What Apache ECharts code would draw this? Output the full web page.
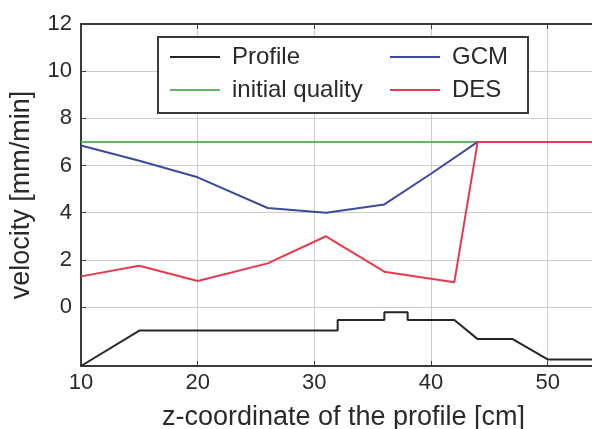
<!DOCTYPE html>
<html><head><meta charset="utf-8">
<script src="https://cdn.jsdelivr.net/npm/echarts@6/dist/echarts.min.js"></script>
<style>html,body{margin:0;padding:0;background:#fff}#c{width:592px;height:429px}</style>
</head><body><div id="c"></div>
<script>
// ---- data ----
const profileX = [10, 15, 32, 32, 36, 36, 38, 38, 42, 44, 47, 50, 55];
const profileY = [-2.5, -1.0, -1.0, -0.55, -0.55, -0.22, -0.22, -0.55, -0.55, -1.36, -1.36, -2.22, -2.22];
const initialX = [10, 55];
const initialY = [7.0, 7.0];
const gcmX = [10, 15, 20, 26, 31, 36, 40, 44];
const gcmY = [6.85, 6.2, 5.5, 4.2, 4.0, 4.35, 5.65, 7.0];
const desX = [10, 15, 20, 26, 31, 36, 42, 44, 55];
const desY = [1.3, 1.75, 1.1, 1.85, 3.0, 1.5, 1.05, 7.0, 7.0];
const xTicks = [10, 20, 30, 40, 50];
const yTicks = [0, 2, 4, 6, 8, 10, 12];

const zip = (xs, ys) => xs.map((x, i) => [x, ys[i]]);
const FONT = 'Liberation Sans, Arial, sans-serif';
const C = { profile: '#262626', initial: '#66b466', gcm: '#3d4a9c', des: '#e83a4c' };

const chart = echarts.init(document.getElementById('c'), null, { renderer: 'canvas' });
const line = (name, xs, ys, color, z) => ({
  name, type: 'line', data: zip(xs, ys), showSymbol: false, symbol: 'none',
  lineStyle: { color, width: 2 }, itemStyle: { color }, z, animation: false
});
chart.setOption({
  animation: false,
  grid: { left: 81, top: 24, width: 525, height: 342, containLabel: false, outerBoundsMode: 'none' },
  xAxis: [{
    type: 'value', min: 10, max: 55, position: 'bottom',
    axisLine: { show: true, onZero: false, lineStyle: { color: '#3a3a3a', width: 2 } },
    axisTick: { show: true, inside: true, length: 5, customValues: xTicks, lineStyle: { color: '#3a3a3a' } },
    axisLabel: { customValues: xTicks, color: '#2a2a2a', fontSize: 22, fontFamily: FONT, margin: 6 },
    splitLine: { show: true, lineStyle: { color: '#cccccc', width: 1 } },
    name: 'z-coordinate of the profile [cm]', nameLocation: 'middle', nameGap: 38,
    nameTextStyle: { color: '#2a2a2a', fontSize: 27, fontFamily: FONT }
  }, {
    type: 'value', min: 10, max: 55, position: 'top',
    axisLine: { show: true, onZero: false, lineStyle: { color: '#3a3a3a', width: 2 } },
    axisTick: { show: true, inside: true, length: 5, customValues: xTicks, lineStyle: { color: '#3a3a3a' } },
    axisLabel: { show: false }, splitLine: { show: false }
  }],
  yAxis: {
    type: 'value', min: -2.5, max: 12,
    axisLine: { show: true, onZero: false, lineStyle: { color: '#3a3a3a', width: 2 } },
    axisTick: { show: true, inside: true, length: 5, customValues: yTicks, lineStyle: { color: '#3a3a3a' } },
    axisLabel: { customValues: yTicks, color: '#2a2a2a', fontSize: 22, fontFamily: FONT, margin: 9 },
    splitLine: { show: true, lineStyle: { color: '#cccccc', width: 1 } },
    name: 'velocity [mm/min]', nameLocation: 'middle', nameGap: 46,
    nameTextStyle: { color: '#2a2a2a', fontSize: 27, fontFamily: FONT }
  },
  legend: [{
    data: ['Profile', 'initial quality'], orient: 'vertical', left: 170, top: 45, padding: 0,
    icon: 'rect', itemWidth: 50, itemHeight: 2, itemGap: 9, z: 6,
    textStyle: { color: '#2a2a2a', fontSize: 24, fontFamily: FONT, lineHeight: 24, padding: [0, 0, 0, 7] }
  }, {
    data: ['GCM', 'DES'], orient: 'vertical', left: 390, top: 45, padding: 0,
    icon: 'rect', itemWidth: 50, itemHeight: 2, itemGap: 9, z: 6,
    textStyle: { color: '#2a2a2a', fontSize: 24, fontFamily: FONT, lineHeight: 24, padding: [0, 0, 0, 7] }
  }],
  graphic: [{
    type: 'rect', left: 157, top: 36, z: 5,
    shape: { width: 370, height: 76 },
    style: { fill: '#fff', stroke: '#3a3a3a', lineWidth: 2 }
  }],
  series: [
    line('Profile', profileX, profileY, C.profile, 3),
    line('initial quality', initialX, initialY, C.initial, 2),
    line('GCM', gcmX, gcmY, C.gcm, 3),
    line('DES', desX, desY, C.des, 4)
  ]
});
</script></body></html>
